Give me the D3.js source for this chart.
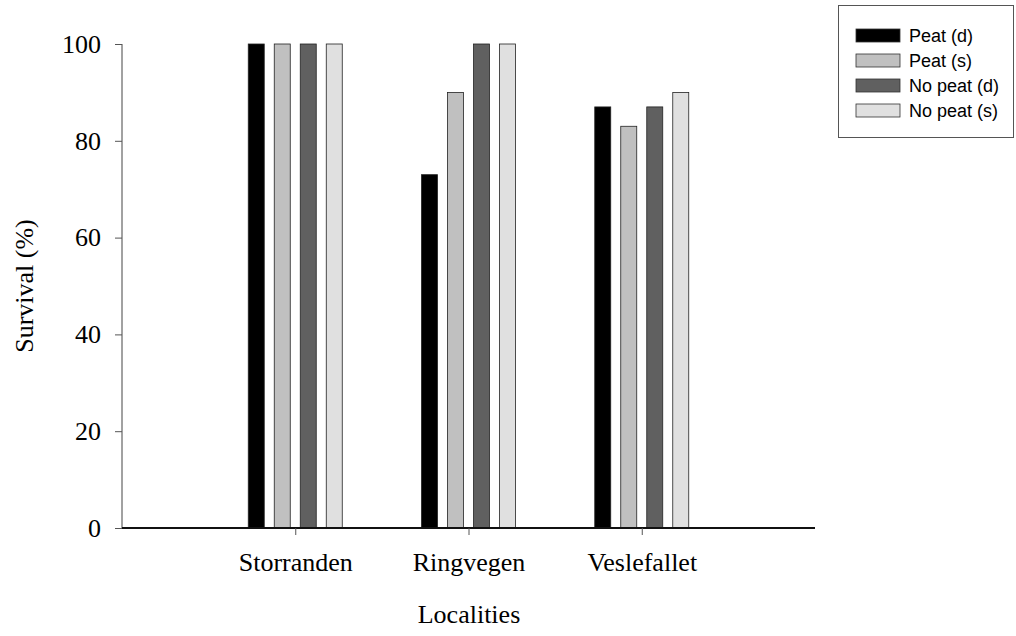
<!DOCTYPE html>
<html>
<head>
<meta charset="utf-8">
<script src="https://cdn.jsdelivr.net/npm/d3@7"></script>
<style>
  html, body { margin: 0; padding: 0; background: #fff; }
  svg { display: block; }
</style>
</head>
<body>
<svg id="chart" width="1016" height="636"></svg>
<script>
// Survival of plants per locality and treatment
const localities = ["Storranden", "Ringvegen", "Veslefallet"];
const seriesNames = ["Peat (d)", "Peat (s)", "No peat (d)", "No peat (s)"];
const peatD   = [100, 73, 87];
const peatS   = [100, 90, 83];
const noPeatD = [100, 100, 87];
const noPeatS = [100, 100, 90];
const yTicks = [0, 20, 40, 60, 80, 100];
const fills = ["#000000", "#c0c0c0", "#606060", "#e0e0e0"];

const seriesValues = [peatD, peatS, noPeatD, noPeatS];

const svg = d3.select("#chart");
const serif = "'Liberation Serif', 'Times New Roman', serif";
const sans = "'Liberation Sans', Arial, sans-serif";

// Plot frame
const plotLeft = 122, plotRight = 815, plotTop = 44, plotBottom = 528;

// Localities sit at 1, 2, 3 on a 0..4 axis
const x = d3.scaleLinear().domain([0, localities.length + 1]).range([plotLeft, plotRight]);
const y = d3.scaleLinear().domain([0, 100]).range([plotBottom, plotTop]);
const inner = d3.scaleBand().domain(d3.range(seriesNames.length)).range([-47, 47]).paddingInner(0.385);

// Bars
const groups = svg.append("g").selectAll("g")
  .data(localities)
  .join("g")
  .attr("transform", (d, i) => `translate(${x(i + 1)},0)`);

groups.selectAll("rect")
  .data((d, i) => seriesValues.map((vals, s) => ({ s, v: vals[i] })))
  .join("rect")
  .attr("x", d => inner(d.s))
  .attr("width", inner.bandwidth())
  .attr("y", d => y(d.v))
  .attr("height", d => y(0) - y(d.v))
  .attr("fill", d => fills[d.s])
  .attr("stroke", "#222")
  .attr("stroke-width", 0.8);

// Y axis
const yAxis = svg.append("g")
  .attr("transform", `translate(${plotLeft},0)`)
  .call(d3.axisLeft(y).tickValues(yTicks).tickSize(7).tickPadding(14).tickFormat(d3.format("d")));
yAxis.select(".domain").attr("stroke", "#444").attr("stroke-width", 1).attr("d", `M0,${plotTop}V${plotBottom}`);
yAxis.selectAll(".tick line").attr("stroke", "#555");
yAxis.selectAll("text").attr("font-family", serif).attr("font-size", 26).attr("fill", "#000");

// X axis
const xAxis = svg.append("g")
  .attr("transform", `translate(0,${plotBottom})`)
  .call(d3.axisBottom(x).tickValues(d3.range(1, localities.length + 1))
    .tickSize(7).tickPadding(18).tickFormat(d => localities[d - 1]));
xAxis.select(".domain").attr("stroke", "#111").attr("stroke-width", 2).attr("d", `M${plotLeft},0H${plotRight}`);
xAxis.selectAll(".tick line").attr("stroke", "#555");
xAxis.selectAll("text").attr("font-family", serif).attr("font-size", 26).attr("fill", "#000");

// Axis titles
svg.append("text")
  .attr("x", (plotLeft + plotRight) / 2 + 0.5)
  .attr("y", 623)
  .attr("text-anchor", "middle")
  .attr("font-family", serif)
  .attr("font-size", 26)
  .text("Localities");

svg.append("text")
  .attr("transform", `translate(33,${(plotTop + plotBottom) / 2}) rotate(-90)`)
  .attr("text-anchor", "middle")
  .attr("font-family", serif)
  .attr("font-size", 26)
  .text("Survival (%)");

// Legend
const legend = svg.append("g");
legend.append("rect")
  .attr("x", 838.5).attr("y", 5.5)
  .attr("width", 175).attr("height", 132)
  .attr("fill", "#fff")
  .attr("stroke", "#555")
  .attr("stroke-width", 1);

const items = legend.selectAll("g.item")
  .data(seriesNames)
  .join("g")
  .attr("class", "item")
  .attr("transform", (d, i) => `translate(856,${29 + i * 25})`);

items.append("rect")
  .attr("width", 44).attr("height", 13)
  .attr("fill", (d, i) => fills[i])
  .attr("stroke", "#333")
  .attr("stroke-width", 0.8);

items.append("text")
  .attr("x", 53)
  .attr("y", 6.5)
  .attr("dy", "0.35em")
  .attr("font-family", sans)
  .attr("font-size", 18)
  .text(d => d);
</script>
</body>
</html>
